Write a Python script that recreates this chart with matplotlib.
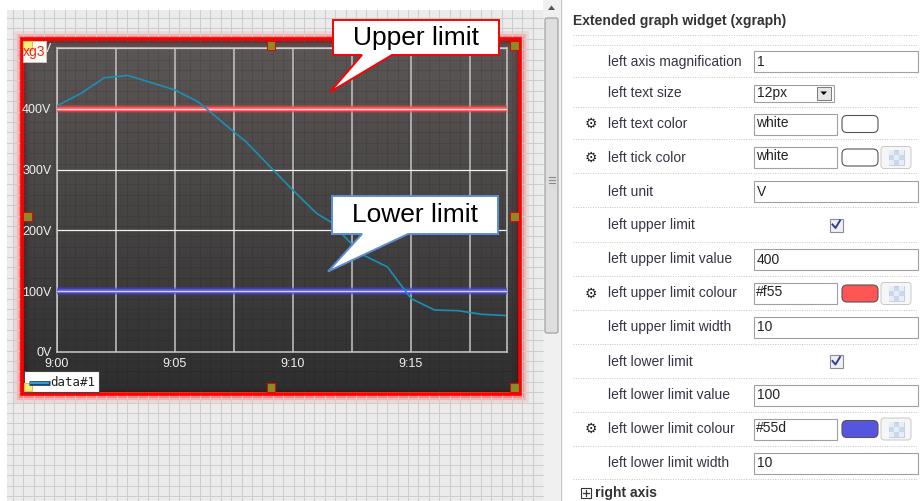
import matplotlib
matplotlib.use("Agg")
import matplotlib.pyplot as plt
import numpy as np
from matplotlib.patches import Rectangle, Polygon, FancyBboxPatch

plt.rcParams['font.family'] = ['Liberation Sans', 'DejaVu Sans']

# ---- chart data ----
minutes = [0, 1, 2, 3, 4, 5, 6, 7.5, 8, 10, 11, 11.6, 12.4, 13, 14, 15, 16, 17, 18, 19]
volts = [405, 425, 451, 455, 443, 431, 411, 362, 346, 266, 228, 214, 181, 159, 140, 88, 69, 68, 62, 60]
time_ticks = [0, 5, 10, 15]
time_labels = ["9:00", "9:05", "9:10", "9:15"]
volt_ticks = [0, 100, 200, 300, 400, 500]
volt_labels = [f"{v}V" for v in volt_ticks]
upper_limit = 400
lower_limit = 100
series_name = "data#1"

# ---- property panel rows: label, kind, value, gear, swatch, checker ----
prop_labels = ["left axis magnification", "left text size", "left text color", "left tick color",
               "left unit", "left upper limit", "left upper limit value", "left upper limit colour",
               "left upper limit width", "left lower limit", "left lower limit value",
               "left lower limit colour", "left lower limit width"]
prop_kinds = ["text", "select", "color", "color", "text", "check", "text", "color",
              "text", "check", "text", "color", "text"]
prop_values = ["1", "12px", "white", "white", "V", "", "400", "#f55", "10", "", "100", "#55d", "10"]
prop_swatch = [None, None, "white", "white", None, None, None, "#ff5555", None, None, None, "#5555dd", None]
prop_checker = [False, False, False, True, False, False, False, True, False, False, False, True, False]
row_y = [61.5, 93, 124, 157.5, 191.5, 225, 259.5, 293.5, 327, 361.5, 395, 429, 463]
sep_y = [35, 45, 77, 107, 139, 173, 207, 242, 276, 310, 344, 378, 412, 446, 479]

W, H = 921, 501
fig = plt.figure(figsize=(W / 100, H / 100), dpi=100)
fig.patch.set_facecolor("white")

# background layer in pixel coordinates (y down)
bg = fig.add_axes([0, 0, 1, 1])
bg.set_xlim(0, W)
bg.set_ylim(H, 0)
bg.axis("off")
bg.set_zorder(0)

# design-area grid paper
bg.add_patch(Rectangle((7, 10), 536, 491, facecolor="#ebebeb", edgecolor="none"))
for gx in np.arange(12.7, 543, 10.4):
    bg.plot([gx, gx], [10, 501], color="#cdcdcd", lw=0.75)
for gy in np.arange(17.9, 501, 10.4):
    bg.plot([7, 543], [gy, gy], color="#cdcdcd", lw=0.75)

# widget red glow, then dark translucent body
for lw, a in [(12, 0.10), (8, 0.18), (5, 0.3)]:
    bg.add_patch(Rectangle((21.7, 39), 498, 355, fill=False, edgecolor="#ff2020", lw=lw, alpha=a))
ny = 200
grad = np.zeros((ny, 2, 4))
f = np.linspace(0, 1, ny)[:, None]
grad[..., 0] = 0.12 - 0.06 * f
grad[..., 1] = 0.09 - 0.03 * f
grad[..., 2] = 0.09 - 0.03 * f
grad[..., 3] = 0.70 + 0.16 * f
bg.imshow(grad, extent=(23, 518.5, 392.5, 40.5), aspect="auto", interpolation="bilinear", zorder=5)
bg.add_patch(Rectangle((21.7, 39), 498, 355, fill=False, edgecolor="#ff0000", lw=2.6, zorder=6))

# scrollbar
bg.add_patch(Rectangle((543, 0), 17, 501, facecolor="#f0f0f0", edgecolor="none"))
bg.add_patch(FancyBboxPatch((545, 18), 13, 315, boxstyle="round,pad=0,rounding_size=2",
                            facecolor="#dedede", edgecolor="#9a9a9a", lw=0.8))
for gy in [177, 180, 183]:
    bg.plot([548.5, 554.5], [gy, gy], color="#8a8a8a", lw=0.8)
bg.add_patch(Polygon([(548, 10), (555, 10), (551.5, 5.5)], closed=True, facecolor="#555", edgecolor="none"))
bg.plot([561, 561], [0, 501], color="#c8c8c8", lw=1)

# ---- the chart ----
ax = fig.add_axes([57 / W, 1 - 352 / H, 450 / W, 304 / H])
ax.set_zorder(1)
ax.set_facecolor("none")
ax.set_xlim(0, 19.07)
ax.set_ylim(0, 500)
ax.set_xticks(time_ticks)
ax.set_xticklabels(time_labels)
ax.set_xticks(np.arange(0, 19, 2.5), minor=True)
ax.set_yticks(volt_ticks)
ax.set_yticklabels(volt_labels)
ax.tick_params(which="both", length=0, colors="#f0f0f0", labelsize=9)
ax.tick_params(axis="y", pad=4)
ax.tick_params(axis="x", pad=4)
ax.grid(axis="x", which="both", color="#c4c4c4", lw=1.1)
ax.grid(axis="y", which="major", color="#f2f2f2", lw=0.9)
for s in ax.spines.values():
    s.set_color("#c8c8c8")
    s.set_linewidth(1.1)

for lw, c, a in [(5.5, "#ff4040", 0.45), (3.2, "#ff5555", 1.0), (1.0, "#ffd6d6", 1.0)]:
    ax.axhline(upper_limit, color=c, lw=lw, alpha=a, zorder=3)
for lw, c, a in [(5.5, "#4a4ad8", 0.45), (3.2, "#5555dd", 1.0), (1.0, "#d0d0ff", 1.0)]:
    ax.axhline(lower_limit, color=c, lw=lw, alpha=a, zorder=3)
ax.plot(minutes, volts, color="#1b8fb8", lw=1.2, zorder=4)

# ---- overlay: handles, legend, callouts, panel ----
top = fig.add_axes([0, 0, 1, 1])
top.set_xlim(0, W)
top.set_ylim(H, 0)
top.axis("off")
top.set_zorder(3)

# legend box
top.add_patch(Rectangle((23.5, 370.5), 75, 21.5, facecolor="white", edgecolor="#444", lw=0.8))
top.plot([29, 49.5], [383, 383], color="#1a3a6a", lw=3.4, solid_capstyle="butt")
top.plot([29.5, 49], [383, 383], color="#2aa0d0", lw=1.6, solid_capstyle="butt")
top.text(50.5, 382, series_name, fontsize=9, family="DejaVu Sans Mono", color="#222", va="center")

# widget name tag
top.add_patch(Rectangle((22.7, 41), 23.3, 20.7, facecolor="#fffef5", edgecolor="#e0c0c0", lw=0.6))
top.text(34, 52, "xg3", fontsize=10, color="#ff2020", ha="center", va="center")

# handles
for hx, hy, col in [(27.5, 45.5, "#f4ee7a"), (271, 45.5, "#8c8c24"), (514.5, 45.5, "#8c8c24"),
                    (27.5, 216.5, "#8c8c24"), (514.5, 216.5, "#8c8c24"), (28, 387, "#f4ee7a"),
                    (271, 387.5, "#8c8c24"), (514.5, 387.5, "#8c8c24")]:
    ec = "#e8c040" if col == "#f4ee7a" else "#d01010"
    top.add_patch(Rectangle((hx - 4.3, hy - 4.3), 8.6, 8.6, facecolor=col, edgecolor=ec, lw=0.8))

# callouts
top.add_patch(Polygon([(333, 20), (499, 20), (499, 55), (392, 55), (330, 92), (362, 55), (333, 55)],
                      closed=True, facecolor="white", edgecolor="#ff0000", lw=1.4, joinstyle="miter"))
top.text(416, 37.5, "Upper limit", fontsize=19, color="black", ha="center", va="center")
top.add_patch(Polygon([(332, 196), (498, 196), (498, 234), (408, 234), (328, 271.5), (362, 234), (332, 234)],
                      closed=True, facecolor="white", edgecolor="#5b8ed4", lw=1.4, joinstyle="miter"))
top.text(415, 215, "Lower limit", fontsize=19, color="black", ha="center", va="center")

# property panel
top.text(573, 20.5, "Extended graph widget (xgraph)", fontsize=10, fontweight="bold", color="#333", va="center")
for sy in sep_y:
    top.plot([573, 918], [sy, sy], color="#c4c4c4", lw=0.7, ls=(0, (1, 1.5)))

for lab, kind, val, sw, chk, y in zip(prop_labels, prop_kinds, prop_values, prop_swatch, prop_checker, row_y):
    top.text(608, y, lab, fontsize=10, color="#353545", va="center")
    if kind == "text":
        top.add_patch(Rectangle((753.5, y - 10.5), 164.5, 21, facecolor="white", edgecolor="#a0a0a0", lw=0.8))
        top.text(757, y, val, fontsize=10, color="#222", va="center")
    elif kind == "select":
        top.add_patch(Rectangle((753.5, y - 8.5), 80, 17, facecolor="white", edgecolor="#a0a0a0", lw=0.8))
        top.text(757, y, val, fontsize=10, color="#222", va="center")
        top.add_patch(Rectangle((817, y - 6.5), 13.5, 13, facecolor="#e6e6e6", edgecolor="#7a7a7a", lw=0.7))
        top.add_patch(Polygon([(820.5, y - 1.5), (827, y - 1.5), (823.75, y + 2)], closed=True,
                              facecolor="black", edgecolor="none"))
    elif kind == "color":
        top.text(591, y, "\u2699", fontsize=10, family="DejaVu Sans", color="#222", ha="center", va="center")
        top.add_patch(Rectangle((753.5, y - 10.5), 83, 21, facecolor="white", edgecolor="#a0a0a0", lw=0.8))
        top.text(756, y - 1, val, fontsize=10, color="#222", va="center")
        top.add_patch(FancyBboxPatch((842, y - 8.5), 36, 17, boxstyle="round,pad=0,rounding_size=5",
                                     facecolor=sw, edgecolor="#555", lw=0.8))
        if chk:
            top.add_patch(FancyBboxPatch((881, y - 11), 30, 22, boxstyle="round,pad=0,rounding_size=3",
                                         facecolor="#f6f6f6", edgecolor="#c8c8c8", lw=0.7))
            top.add_patch(Rectangle((888.5, y - 7.5), 15, 15, facecolor="#c9d8ec", edgecolor="#b8c8e0", lw=0.5))
            for cx in range(3):
                for cy in range(3):
                    if (cx + cy) % 2 == 0:
                        top.add_patch(Rectangle((888.5 + 5 * cx, y - 7.5 + 5 * cy), 5, 5,
                                                facecolor="#e4edf8", edgecolor="none"))
    elif kind == "check":
        top.add_patch(Rectangle((829.5, y - 6.5), 13, 13, facecolor="#eef0f6", edgecolor="#8a8c9c", lw=0.8))
        top.plot([832.5, 835.5, 840], [y - 0.5, y + 3, y - 4.5], color="#2e3f96", lw=1.4)

# "right axis" group header
top.add_patch(Rectangle((580.5, 488), 10, 10, facecolor="white", edgecolor="#333", lw=0.8))
top.plot([582.5, 588.5], [493, 493], color="#333", lw=0.9)
top.plot([585.5, 585.5], [490, 496], color="#333", lw=0.9)
top.text(595, 493, "right axis", fontsize=10, fontweight="bold", color="#333", va="center")

fig.savefig("out.png", dpi=100)
